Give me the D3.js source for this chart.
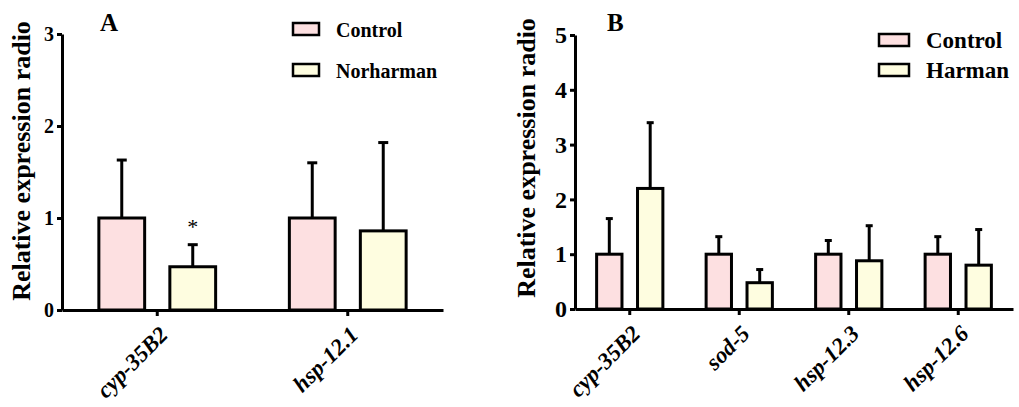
<!DOCTYPE html>
<html lang="en">
<head>
<meta charset="UTF-8">
<title>Relative expression radio</title>
<script src="https://d3js.org/d3.v7.min.js"></script>
<style>
  body { margin: 0; background: #fff; }
  svg text { font-family: "Times New Roman", "Liberation Serif", Times, serif; }
</style>
</head>
<body>
<div id="chart"></div>
<script>
// panel A
const genesA = ["cyp-35B2", "hsp-12.1"];
const seriesA = ["Control", "Norharman"];
const controlA = [1.0, 1.0];
const controlSdA = [0.63, 0.60];
const norharmanA = [0.47, 0.86];
const norharmanSdA = [0.24, 0.96];
const starsA = ["*", ""];
const yTicksA = [0, 1, 2, 3];

// panel B
const genesB = ["cyp-35B2", "sod-5", "hsp-12.3", "hsp-12.6"];
const seriesB = ["Control", "Harman"];
const controlB = [1.0, 1.0, 1.0, 1.0];
const controlSdB = [0.65, 0.32, 0.25, 0.32];
const harmanB = [2.2, 0.48, 0.88, 0.8];
const harmanSdB = [1.2, 0.24, 0.64, 0.65];
const yTicksB = [0, 1, 2, 3, 4, 5];

const fills = ["#fde0e1", "#fefde0"];

const svg = d3.select("#chart").append("svg")
    .attr("width", 1019)
    .attr("height", 407);

function drawPanel(p) {
    const g = svg.append("g");

    const x0 = d3.scaleBand().domain(p.genes).range([p.left, p.right]).padding(0);
    const groupW = x0.bandwidth() * p.groupFrac;
    const x1 = d3.scaleBand().domain(p.series).range([-groupW / 2, groupW / 2])
        .paddingInner(p.innerPad).paddingOuter(0);
    const y = d3.scaleLinear().domain([0, d3.max(p.yTicks)]).range([p.bottom, p.top]);

    const rows = [];
    p.genes.forEach((gene, i) => {
        p.series.forEach((s, j) => {
            rows.push({ gene, s, j, mean: p.means[j][i], sd: p.sds[j][i] });
        });
    });

    // error bars (upper only)
    const eb = g.selectAll(".err").data(rows).join("g")
        .attr("transform", d => `translate(${x0(d.gene) + x0.bandwidth() / 2 + x1(d.s) + x1.bandwidth() / 2},0)`);
    eb.append("line")
        .attr("x1", 0).attr("x2", 0)
        .attr("y1", d => y(d.mean)).attr("y2", d => y(d.mean + d.sd))
        .attr("stroke", "#000").attr("stroke-width", 3);
    eb.append("line")
        .attr("x1", -p.cap).attr("x2", p.cap)
        .attr("y1", d => y(d.mean + d.sd)).attr("y2", d => y(d.mean + d.sd))
        .attr("stroke", "#000").attr("stroke-width", 3);

    // bars
    g.selectAll(".bar").data(rows).join("rect")
        .attr("x", d => x0(d.gene) + x0.bandwidth() / 2 + x1(d.s))
        .attr("width", x1.bandwidth())
        .attr("y", d => y(d.mean))
        .attr("height", d => y(0) - y(d.mean))
        .attr("fill", d => fills[d.j])
        .attr("stroke", "#000")
        .attr("stroke-width", 3);

    // significance marks
    if (p.stars) {
        g.selectAll(".star").data(rows.filter(d => d.j === 1)).join("text")
            .attr("x", d => x0(d.gene) + x0.bandwidth() / 2 + x1(d.s) + x1.bandwidth() / 2)
            .attr("y", d => y(d.mean + d.sd) - 11)
            .attr("text-anchor", "middle")
            .attr("font-size", 22)
            .text(d => p.stars[p.genes.indexOf(d.gene)]);
    }

    // y axis
    const ya = g.append("g")
        .attr("transform", `translate(${p.left},0)`)
        .call(d3.axisLeft(y).tickValues(p.yTicks).tickFormat(d3.format("d"))
            .tickSize(5).tickSizeOuter(0).tickPadding(3));
    ya.selectAll("path, line").attr("stroke", "#000").attr("stroke-width", 3);
    ya.selectAll("text").attr("font-size", p.tickFont).attr("font-weight", "bold")
        .attr("font-family", null).attr("fill", "#000");

    // x axis
    const xa = g.append("g")
        .attr("transform", `translate(0,${p.bottom})`)
        .call(d3.axisBottom(x0).tickSize(6).tickSizeOuter(0));
    xa.selectAll("path, line").attr("stroke", "#000").attr("stroke-width", 3);
    xa.selectAll("text")
        .attr("y", null).attr("dy", null)
        .attr("transform", "translate(12,26) rotate(-45)")
        .attr("text-anchor", "end")
        .attr("font-size", 23).attr("font-weight", "bold").attr("font-style", "italic")
        .attr("font-family", null).attr("fill", "#000");

    // y title
    g.append("text")
        .attr("transform", `translate(${p.titleX},${p.titleY}) rotate(-90)`)
        .attr("text-anchor", "middle")
        .attr("font-size", 26).attr("font-weight", "bold")
        .text("Relative expression radio");

    // panel letter
    g.append("text")
        .attr("x", p.letterX).attr("y", 31)
        .attr("font-size", 25).attr("font-weight", "bold")
        .text(p.letter);

    // legend
    const lg = g.selectAll(".leg").data(p.series).join("g")
        .attr("transform", (d, i) => `translate(${p.legX},${p.legY + i * p.legStep})`);
    lg.append("rect")
        .attr("x", 0).attr("y", -12)
        .attr("width", p.legW).attr("height", 12)
        .attr("fill", (d, i) => fills[i])
        .attr("stroke", "#000").attr("stroke-width", 2.5);
    lg.append("text")
        .attr("x", p.legW + 17).attr("y", 2)
        .attr("font-size", p.legFont).attr("font-weight", "bold")
        .text(d => d);
}

drawPanel({
    genes: genesA, series: seriesA,
    means: [controlA, norharmanA], sds: [controlSdA, norharmanSdA],
    stars: starsA, yTicks: yTicksA,
    left: 62, right: 443, top: 34, bottom: 310,
    groupFrac: 0.613, innerPad: 0.355, cap: 5, tickFont: 20,
    titleX: 30, titleY: 161, letter: "A", letterX: 100,
    legX: 293, legY: 35, legStep: 41, legW: 26, legFont: 20
});

drawPanel({
    genes: genesB, series: seriesB,
    means: [controlB, harmanB], sds: [controlSdB, harmanSdB],
    stars: null, yTicks: yTicksB,
    left: 575, right: 1013, top: 35, bottom: 309,
    groupFrac: 0.605, innerPad: 0.38, cap: 3.5, tickFont: 24,
    titleX: 535, titleY: 158, letter: "B", letterX: 607,
    legX: 879, legY: 46, legStep: 30, legW: 30, legFont: 23
});
</script>
</body>
</html>
